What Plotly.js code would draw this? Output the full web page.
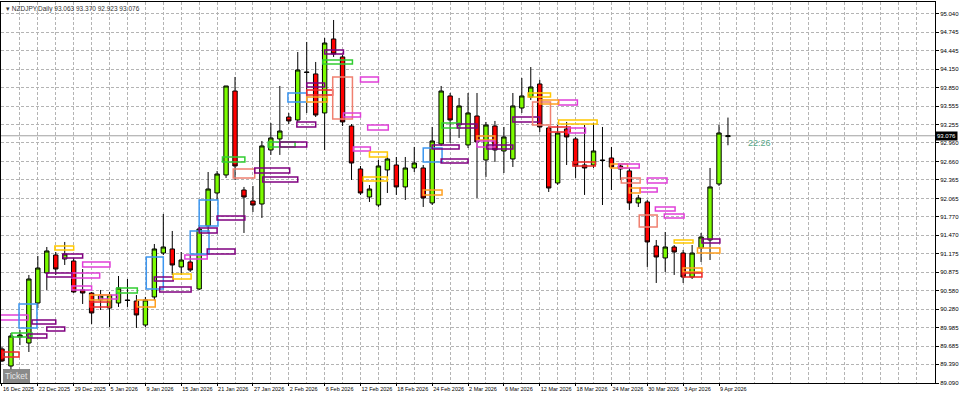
<!DOCTYPE html>
<html>
<head>
<meta charset="utf-8">
<script src="https://cdn.plot.ly/plotly-3.0.1.min.js"></script>
<style>
html,body{margin:0;padding:0;background:#fff;}
#chart{width:960px;height:396px;}
</style>
</head>
<body>
<div id="chart"></div>
<script>
// ---- data ----
const symbol = "NZDJPY";
const timeframe = "Daily";
const openP  = [89.639,89.364,89.832,89.735,90.380,90.864,91.154,91.090,91.057,90.590,90.541,90.429,90.299,90.380,90.429,90.412,90.025,90.477,91.186,91.251,90.961,91.041,90.606,91.622,92.154,92.444,93.798,92.202,92.025,91.976,92.847,93.025,93.379,93.331,94.105,94.073,93.444,94.637,94.347,93.234,92.541,92.089,91.960,92.525,92.605,92.251,92.557,92.557,91.993,92.944,93.718,93.250,92.928,93.395,92.686,93.234,92.831,92.702,93.524,93.702,93.911,93.202,92.315,93.186,93.025,92.605,92.605,92.686,92.718,92.589,92.509,91.993,92.009,91.299,91.106,91.283,91.186,90.799,91.267,91.396,92.299,93.063];
const highP  = [89.671,89.896,89.945,90.832,91.138,91.283,91.202,91.364,91.106,90.928,90.558,90.590,90.558,90.815,90.767,90.509,90.477,91.331,91.815,91.541,91.202,91.154,91.638,92.492,92.509,93.879,94.024,92.251,92.267,92.992,93.282,93.879,93.444,94.427,94.589,94.266,94.653,94.943,94.379,93.266,92.589,92.282,92.686,92.767,92.734,92.734,92.896,92.605,93.218,93.879,93.766,93.686,93.766,93.766,93.299,93.315,93.218,93.766,94.008,94.185,93.976,93.218,93.250,93.299,93.057,93.250,93.282,93.218,92.896,92.621,92.557,92.122,92.041,91.396,91.525,91.315,91.235,91.315,91.509,92.557,93.250,93.370];
const lowP   = [89.429,89.284,89.703,89.590,90.299,90.590,90.832,90.993,90.541,90.364,90.042,90.267,89.993,90.316,90.316,89.977,89.993,90.429,91.154,90.832,90.832,90.880,90.590,91.509,92.041,92.396,92.363,91.509,91.847,91.751,92.767,92.767,93.266,93.299,93.444,93.379,92.847,94.347,93.234,92.363,92.122,92.009,91.928,92.154,92.122,92.041,92.492,91.928,91.960,92.912,92.960,93.041,92.879,92.073,92.412,92.654,92.476,92.573,93.444,93.653,93.137,92.170,92.283,92.605,92.396,92.122,92.557,91.960,92.202,92.363,91.880,91.928,90.961,90.703,90.880,90.832,90.703,90.767,91.041,91.073,92.267,92.923];
const closeP = [89.445,89.848,89.864,90.767,90.944,91.219,90.928,91.170,90.558,90.541,90.219,90.493,90.509,90.622,90.420,90.187,90.429,91.251,91.283,90.993,91.073,90.912,91.573,92.218,92.460,93.879,92.589,92.089,91.960,92.912,93.041,93.153,93.315,94.137,94.097,93.411,94.572,94.395,93.299,92.637,92.154,92.218,92.589,92.702,92.251,92.557,92.637,92.073,92.992,93.798,93.331,93.557,93.444,92.976,93.250,92.847,93.057,93.557,93.718,93.863,93.218,92.234,93.121,93.057,92.589,92.557,92.831,92.678,92.573,92.541,91.993,92.073,91.364,91.122,91.283,91.202,90.799,91.186,91.444,92.251,93.121,93.076];

// date labels, one every 4 bars starting at bar 0
const dateLabels = ["16 Dec 2025","22 Dec 2025","29 Dec 2025","5 Jan 2026","9 Jan 2026","15 Jan 2026","21 Jan 2026","27 Jan 2026","2 Feb 2026","6 Feb 2026","12 Feb 2026","18 Feb 2026","24 Feb 2026","2 Mar 2026","6 Mar 2026","12 Mar 2026","18 Mar 2026","24 Mar 2026","30 Mar 2026","3 Apr 2026","9 Apr 2026"];
const priceTicks = [95.040,94.745,94.445,94.150,93.850,93.555,93.255,92.960,92.660,92.365,92.065,91.770,91.470,91.175,90.875,90.580,90.280,89.985,89.685,89.390,89.090];

// indicator zones (bar index span, price span, kind)
const zoneStart  = [-0.2,0.1,1.1,2.9,1.9,3.35,5.0,5.9,6.8,9.0,7.8,5.0,7.8,10.9,9.8,9.8,12.8,15.1,16.1,17.0,17.6,19.1,20.4,21.0,22.9,22.0,22.0,24.0,24.6,25.8,28.2,29.1,29.7,31.0,32.9,31.9,34.0,34.0,34.0,35.8,36.0,36.9,40.0,38.1,40.8,39.2,41.0,40.3,47.0,47.0,48.0,49.0,49.1,50.8,53.0,53.0,54.1,58.7,57.0,59.2,62.1,60.0,62.1,61.0,63.2,63.7,67.9,68.8,69.1,72.0,71.2,70.0,72.9,73.9,71.1,75.0,78.1,77.6,76.0,76.0];
const zoneEnd    = [2.9,1.9,3.35,5.0,3.9,6.0,7.0,8.0,9.0,12.05,10.9,7.8,10.0,12.9,12.05,12.05,15.1,17.1,18.0,19.1,21.1,21.1,22.9,23.1,26.0,24.0,24.1,27.1,27.1,28.2,32.1,33.0,32.7,34.0,35.0,34.0,36.0,36.9,36.3,39.1,38.1,39.1,42.0,40.0,43.1,41.1,43.0,43.0,49.1,49.1,51.0,52.0,51.1,53.0,55.0,55.0,57.0,61.2,60.0,61.2,64.2,62.1,66.4,63.4,65.1,66.2,69.8,71.1,71.2,74.2,73.1,71.2,75.1,76.1,73.1,77.1,80.1,80.1,78.1,78.1];
const zoneTop    = [90.187,89.590,89.896,89.880,90.364,90.106,89.993,91.299,91.170,91.041,90.864,90.864,90.654,90.509,90.509,90.396,90.622,90.429,91.122,90.799,90.638,90.848,91.154,91.541,91.251,91.589,92.041,91.783,92.734,92.541,92.557,92.412,92.976,92.976,93.299,93.766,93.927,93.815,93.702,94.298,94.460,94.024,94.024,93.444,93.250,92.896,92.815,92.412,92.202,92.879,92.928,92.702,93.282,93.266,93.073,92.992,92.928,93.766,93.379,93.621,93.653,93.653,93.331,93.218,93.202,92.654,92.621,92.621,92.396,92.396,92.234,92.234,91.928,91.815,91.799,91.396,91.412,91.267,90.944,90.864];
const zoneBottom = [90.106,89.509,89.832,89.816,89.977,90.042,89.929,91.235,91.106,90.961,90.783,90.799,90.590,90.445,90.429,90.316,90.541,90.316,90.606,90.735,90.558,90.767,91.090,91.170,91.170,91.509,91.622,91.718,92.654,92.396,92.476,92.331,92.896,92.896,93.218,93.621,93.863,93.734,93.621,94.234,94.395,93.347,93.944,93.379,93.170,92.831,92.734,92.347,92.122,92.654,92.863,92.637,93.202,93.202,93.008,92.896,92.863,93.702,93.299,93.250,93.573,93.589,93.266,93.137,93.121,92.589,92.557,92.557,92.315,92.315,92.170,92.154,91.864,91.751,91.606,91.348,91.348,91.186,90.880,90.799];
const zoneKind   = ["mag","red","green","purple","blue","purple","purple","yellow","purple","mag","mag","purple","mag","mag","orange","red","green","orange","blue","purple","purple","yellow","mag","blue","purple","purple","blue","purple","green","salmon","purple","purple","green","purple","purple","blue","purple","red","orange","green","purple","salmon","mag","mag","mag","mag","yellow","yellow","orange","blue","purple","purple","green","purple","orange","mag","purple","yellow","purple","salmon","mag","orange","yellow","red","mag","red","orange","mag","salmon","mag","mag","orange","mag","mag","salmon","yellow","purple","orange","orange","red"];

const countdown = "22:26";

// ---- styling ----
const kindColor = {mag:"#e040d8", purple:"#800080", yellow:"#ffc800", orange:"#ffa020", red:"#f02828", salmon:"#f08070", blue:"#3c96f0", green:"#32cd32"};
const gridColor = "#b4b4b4";
const FONT = "Liberation Sans, Arial, sans-serif";

const n = openP.length;
const xIdx = openP.map((_, i) => i);
const last = n - 1;

const labelVals = dateLabels.map((_, k) => k * 4);

const trace = {
  type: "candlestick",
  x: xIdx, open: openP, high: highP, low: lowP, close: closeP,
  increasing: {line: {color: "#000000", width: 1}, fillcolor: "#7cfc00"},
  decreasing: {line: {color: "#000000", width: 1}, fillcolor: "#ff0000"},
  whiskerwidth: 0,
  hoverinfo: "skip",
  showlegend: false
};

const shapes = [];
// current price line
shapes.push({type: "line", xref: "paper", x0: 0, x1: 1, yref: "y", y0: closeP[last], y1: closeP[last],
  line: {color: "#a0a0a0", width: 1}, layer: "below"});
for (let k = 0; k < zoneStart.length; k++) {
  shapes.push({type: "rect", xref: "x", yref: "y",
    x0: zoneStart[k], x1: zoneEnd[k], y0: zoneBottom[k], y1: zoneTop[k],
    line: {color: kindColor[zoneKind[k]], width: 1.5}, fillcolor: "rgba(0,0,0,0)", layer: "above"});
}

const fmt = v => v.toFixed(3);
const annotations = [
  {xref: "paper", yref: "paper", x: 0.003, y: 0.997, xanchor: "left", yanchor: "top", showarrow: false,
   text: "▾ " + symbol + "," + timeframe + " " + fmt(openP[last]) + " " + fmt(highP[last]) + " " + fmt(lowP[last]) + " " + fmt(closeP[last]),
   font: {family: FONT, size: 6.5, color: "#333333"}},
  {xref: "paper", yref: "y", x: 1.0, y: closeP[last], xanchor: "left", yanchor: "middle", showarrow: false,
   text: fmt(closeP[last]), bgcolor: "#000000", borderpad: 1,
   font: {family: FONT, size: 6, color: "#ffffff"}},
  {xref: "x", yref: "y", x: last + 2, y: closeP[last], xanchor: "left", yanchor: "top", showarrow: false,
   text: countdown, font: {family: FONT, size: 9, color: "#5aa88a"}},
  {xref: "paper", yref: "paper", x: 0.002, y: 0.0, xanchor: "left", yanchor: "bottom", showarrow: false,
   text: "Ticket", bgcolor: "#8a8a8a", borderpad: 1.5, bordercolor: "#707070", borderwidth: 0.5,
   font: {family: FONT, size: 8.5, color: "#e6e6e6"}}
];

const layout = {
  width: 960, height: 396,
  margin: {l: 1, r: 25, t: 2, b: 13, pad: 0},
  paper_bgcolor: "#ffffff", plot_bgcolor: "#ffffff",
  showlegend: false,
  dragmode: false,
  xaxis: {
    range: [-0.11, 104.1],
    tickmode: "array", tickvals: labelVals, ticktext: dateLabels,
    tickangle: 0,
    ticklabelposition: "outside right",
    ticks: "outside", ticklen: 2, tickcolor: "#000",
    ticklabelstandoff: 0,
    tickfont: {family: FONT, size: 5.5, color: "#000"},
    showgrid: true, gridcolor: gridColor, griddash: "3px,2px", gridwidth: 1,
    minor: {tickmode: "linear", tick0: 0, dtick: 2, showgrid: true, gridcolor: gridColor, griddash: "3px,2px", gridwidth: 1, ticks: ""},
    showline: true, linecolor: "#000", linewidth: 1, mirror: true,
    zeroline: false, rangeslider: {visible: false}, fixedrange: true
  },
  yaxis: {
    side: "right",
    range: [89.09, 95.233],
    tickmode: "array", tickvals: priceTicks, ticktext: priceTicks.map(fmt),
    ticks: "outside", ticklen: 3, tickcolor: "#000",
    tickfont: {family: FONT, size: 6, color: "#000"},
    showgrid: true, gridcolor: gridColor, griddash: "3px,2px", gridwidth: 1,
    showline: true, linecolor: "#000", linewidth: 1, mirror: true,
    zeroline: false, fixedrange: true
  },
  shapes: shapes,
  annotations: annotations
};

Plotly.newPlot("chart", [trace], layout, {displayModeBar: false, staticPlot: true});
</script>
</body>
</html>
